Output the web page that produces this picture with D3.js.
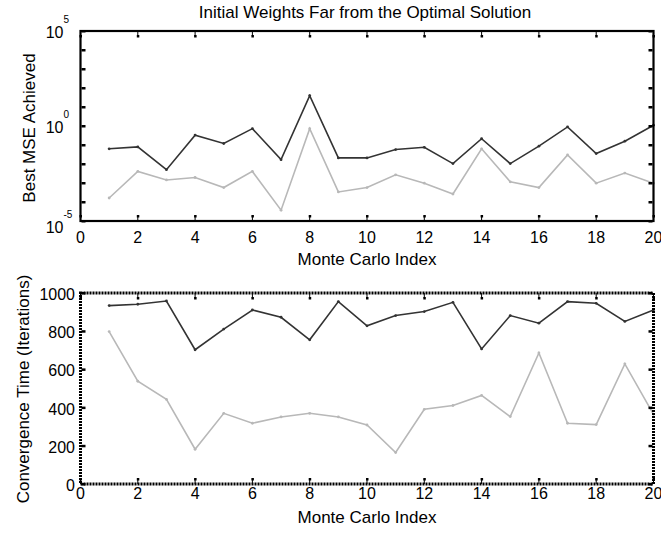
<!DOCTYPE html>
<html><head><meta charset="utf-8">
<script src="https://d3js.org/d3.v7.min.js"></script>
<style>body{margin:0;background:#fff}text{font-family:"Liberation Sans",Arial,sans-serif;fill:#000}</style>
</head><body><svg id="c" width="661" height="535"></svg>
<script>
const index = d3.range(1, 21);
const mseDark = [-1.2,-1.1,-2.3,-0.48,-0.92,-0.14,-1.77,1.6,-1.68,-1.68,-1.24,-1.12,-1.98,-0.67,-1.98,-1.06,-0.05,-1.45,-0.8,0.04].map(v=>Math.pow(10,v));
const mseGray = [-3.79,-2.39,-2.84,-2.71,-3.24,-2.39,-4.43,-0.14,-3.47,-3.24,-2.57,-3.01,-3.58,-1.2,-2.94,-3.24,-1.52,-3.01,-2.48,-3.01].map(v=>Math.pow(10,v));
const convDark = [934,941,958,703,811,911,873,755,955,828,882,903,951,707,882,842,955,946,851,911];
const convGray = [798,538,443,182,370,318,351,370,351,309,165,391,411,464,353,686,318,311,629,365];
const xTicks = [0,2,4,6,8,10,12,14,16,18,20];
const logTicks = [-5,-4,-3,-2,-1,0,1,2,3,4,5];
const logLabels = [-5,0,5];
const linTicks = [0,200,400,600,800,1000];

const svg = d3.select("#c");
const L = 80.5, R = 653.5;
const x = d3.scaleLinear().domain([0,20]).range([L,R]);

function frame(g, top, bottom, dashed){
  g.append("rect").attr("x",L).attr("y",top).attr("width",R-L).attr("height",bottom-top)
   .attr("fill","none").attr("stroke","#000").attr("stroke-width",dashed?3:2.2)
   .attr("stroke-dasharray",dashed?"2,1":null);
}
function xTickMarks(g, top, bottom, labelY){
  xTicks.forEach(t=>{
    const px = x(t);
    g.append("line").attr("x1",px).attr("x2",px).attr("y1",top).attr("y2",top+5).attr("stroke","#000").attr("stroke-width",1);
    g.append("rect").attr("x",px-1).attr("y",top+4).attr("width",2.5).attr("height",2.5).attr("fill","#000");
    g.append("line").attr("x1",px).attr("x2",px).attr("y1",bottom).attr("y2",bottom-5).attr("stroke","#000").attr("stroke-width",1);
    g.append("rect").attr("x",px-1).attr("y",bottom-6).attr("width",2.5).attr("height",2.5).attr("fill","#000");
  });
  g.selectAll(null).data(xTicks).enter().append("text")
   .attr("x",d=>x(d)).attr("y",labelY).attr("text-anchor","middle").attr("font-size",16).text(d=>d);
}
function yTickMarks(g, ticks, y){
  ticks.forEach(t=>{
    const py = y(t);
    g.append("rect").attr("x",L+1).attr("y",py-1).attr("width",4).attr("height",2.5).attr("fill","#000");
    g.append("rect").attr("x",R-5).attr("y",py-1).attr("width",4).attr("height",2.5).attr("fill","#000");
  });
}
function series(g, data, xs, y, color){
  const line = d3.line().x((d,i)=>x(xs[i])).y(d=>y(d));
  g.append("path").datum(data).attr("d",line).attr("fill","none").attr("stroke",color).attr("stroke-width",1.6);
  g.selectAll(null).data(data).enter().append("circle")
   .attr("cx",(d,i)=>x(xs[i])).attr("cy",d=>y(d)).attr("r",1.4).attr("fill",color);
}

// Top plot
const T1 = 31, B1 = 221;
const y1 = d3.scaleLog().domain([1e-5,1e5]).range([B1,T1]);
const g1 = svg.append("g");
svg.append("text").attr("x",365).attr("y",18).attr("text-anchor","middle").attr("font-size",17).text("Initial Weights Far from the Optimal Solution");
series(g1, mseDark, index, y1, "#333333");
series(g1, mseGray, index, y1, "#b8b8b8");
frame(g1, T1, B1, false);
xTickMarks(g1, T1, B1, 243);
yTickMarks(g1, logTicks.map(v=>Math.pow(10,v)), y1);
logLabels.forEach(p=>{
  const py = y1(Math.pow(10,p));
  const base = py + (p === -5 ? 12 : 7);
  g1.append("text").attr("x",63.5).attr("y",base).attr("text-anchor","end").attr("font-size",16).text("10");
  g1.append("text").attr("x",63.5).attr("y",base-15).attr("text-anchor","start").attr("font-size",10).text(p);
});
g1.append("text").attr("transform","translate(35,128) rotate(-90)").attr("text-anchor","middle").attr("font-size",17).text("Best MSE Achieved");
g1.append("text").attr("x",367).attr("y",265).attr("text-anchor","middle").attr("font-size",17).text("Monte Carlo Index");

// Bottom plot
const T2 = 293, B2 = 484;
const y2 = d3.scaleLinear().domain([0,1000]).range([B2,T2]);
const g2 = svg.append("g");
series(g2, convDark, index, y2, "#333333");
series(g2, convGray, index, y2, "#b8b8b8");
frame(g2, T2, B2, true);
xTickMarks(g2, T2, B2, 499);
yTickMarks(g2, linTicks, y2);
g2.selectAll(null).data(linTicks).enter().append("text")
  .attr("x",75).attr("y",d=>y2(d)+7).attr("text-anchor","end").attr("font-size",16).text(d=>d);
g2.append("text").attr("transform","translate(29,389) rotate(-90)").attr("text-anchor","middle").attr("font-size",17).text("Convergence Time (Iterations)");
g2.append("text").attr("x",367).attr("y",523).attr("text-anchor","middle").attr("font-size",17).text("Monte Carlo Index");
</script></body></html>
